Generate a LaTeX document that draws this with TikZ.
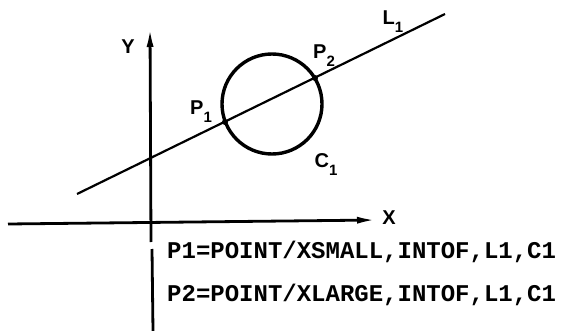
\documentclass[tikz,border=0pt]{standalone}
\usepackage{fontspec}
\newfontfamily\labelfont{Liberation Sans}
\newfontfamily\codefont{Liberation Mono}
\usetikzlibrary{arrows.meta}
\newcommand{\sublabel}[2]{#1\raisebox{-0.4em}{\fontsize{15}{15}\selectfont #2}}

\begin{document}
\begin{tikzpicture}[x=1pt,y=-1pt,
  axisline/.style={line width=2.8pt,-{Latex[length=20pt,width=7pt]}},
  ptlabel/.style={font=\fontsize{20}{22}\selectfont\labelfont\bfseries,inner sep=0pt},
  codeline/.style={font=\fontsize{24}{26}\selectfont\codefont\bfseries,anchor=west,inner sep=0pt}]
  \useasboundingbox (0,0) rectangle (561,331);
  % axes
  \coordinate (xstart) at (8,224);
  \coordinate (xend) at (377,220);
  \coordinate (ytop) at (150,27);
  \coordinate (ygapa) at (151,242);
  \coordinate (ygapb) at (152,249);
  \coordinate (ybot) at (153,331);
  \draw[axisline] (xstart) -- (xend);
  \draw[axisline] (ygapa) -- (ytop);
  \draw[line width=2.8pt] (ygapb) -- (ybot);
  % line L1 through circle C1
  \coordinate (lstart) at (77,194);
  \coordinate (lend) at (445,14);
  \coordinate (C) at (272,104);
  \coordinate (P1) at (225,122);
  \coordinate (P2) at (315,78);
  \draw[line width=2.2pt] (lstart) -- (lend);
  \draw[line width=3.4pt] (C) circle (50);
  \fill (P1) circle (3) (P2) circle (3);
  % labels
  \node[ptlabel] (ylab) at (128,47) {Y};
  \node[ptlabel] (xlab) at (389,218) {X};
  \node[ptlabel] (p1lab) at (201,112) {\sublabel{P}{1}};
  \node[ptlabel] (p2lab) at (324,56) {\sublabel{P}{2}};
  \node[ptlabel] (c1lab) at (326,165) {\sublabel{C}{1}};
  \node[ptlabel] (l1lab) at (393,22) {\sublabel{L}{1}};
  \node[codeline] (stmta) at (167,252) {P1=POINT/XSMALL,INTOF,L1,C1};
  \node[codeline] (stmtb) at (167,295) {P2=POINT/XLARGE,INTOF,L1,C1};
\end{tikzpicture}
\end{document}
